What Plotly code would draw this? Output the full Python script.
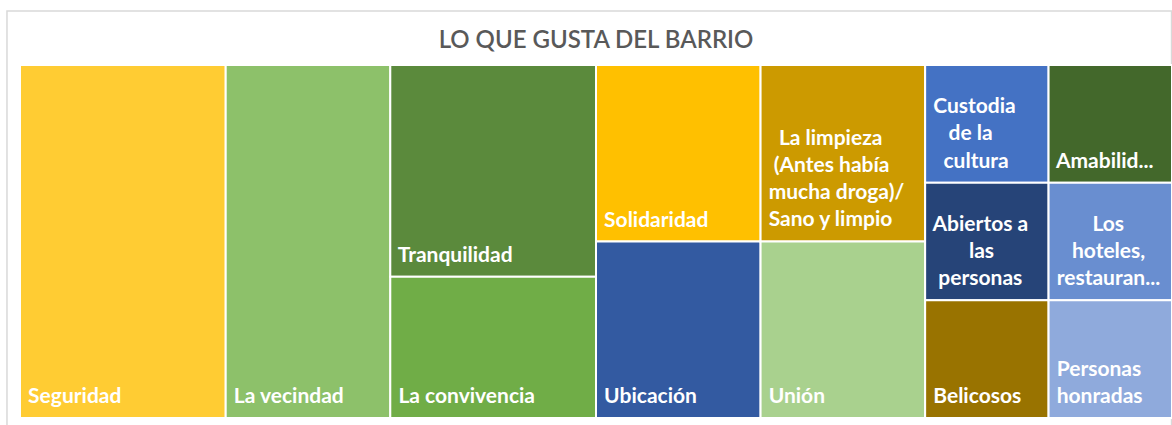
import plotly.graph_objects as go

# ---- data ----
categories = ["Seguridad", "La vecindad", "Tranquilidad", "La convivencia",
              "Solidaridad", "Ubicación", "La limpieza (Antes había mucha droga)/ Sano y limpio",
              "Unión", "Custodia de la cultura", "Abiertos a las personas", "Belicosos",
              "Amabilidad", "Los hoteles, restaurantes", "Personas honradas"]
display_labels = ["Seguridad", "La vecindad", "Tranquilidad", "La convivencia",
                  "Solidaridad", "Ubicación",
                  "La limpieza<br>(Antes había<br>mucha droga)/<br>Sano y limpio",
                  "Unión", "Custodia<br>de la<br>cultura", "Abiertos a<br>las<br>personas",
                  "Belicosos", "Amabilid...", "Los<br>hoteles,<br>restauran...",
                  "Personas<br>honradas"]
values = [5, 4, 3, 2, 2, 2, 2, 2, 1, 1, 1, 1, 1, 1]

# ---- styling ----
colors = ["#FFCC33", "#8DC16A", "#5B8A3C", "#70AD47", "#FFC000", "#335AA1", "#CC9A00",
          "#A9D18E", "#4472C4", "#264478", "#997300", "#43682B", "#698ED0", "#8FAADC"]
# column grouping used by the Excel-style layout
column_of = [0, 1, 2, 2, 3, 3, 4, 4, 5, 5, 5, 6, 6, 6]
# extra non-breaking spaces to centre the lines of wrapped labels
line_indent = {6: [2, 1, 0, 0], 8: [0, 3, 2], 9: [0, 7, 1], 12: [7, 3, 0], 13: [0, 0]}

NB = "\u00a0"


def fmt(i, label):
    lines = label.split("<br>")
    ind = line_indent.get(i, [0] * len(lines))
    out = [NB * (1 + k) + ln for k, ln in zip(ind, lines)]
    out[-1] += "<span style='font-size:54px'>" + NB + "</span>"
    return "<br>".join(out)


ids, labels, parents, vals, texts, cols = [], [], [], [], [], []
ids.append("root"); labels.append(""); parents.append(""); vals.append(0); texts.append(""); cols.append("white")
for c in sorted(set(column_of)):
    ids.append(f"col{c}"); labels.append(""); parents.append("root"); vals.append(0); texts.append(""); cols.append("white")
for i, cat in enumerate(categories):
    ids.append(f"leaf{i}"); labels.append(cat); parents.append(f"col{column_of[i]}")
    vals.append(values[i]); texts.append(fmt(i, display_labels[i])); cols.append(colors[i])

fig = go.Figure(go.Treemap(
    ids=ids, labels=labels, parents=parents, values=vals, text=texts,
    branchvalues="remainder", sort=False,
    texttemplate="%{text}", textposition="bottom left",
    textfont=dict(family="Lato", size=21, color="white", weight="bold"),
    marker=dict(colors=cols, line=dict(width=2, color="white"),
                pad=dict(t=0, l=0, r=0, b=0)),
    tiling=dict(packing="slice-dice", pad=0),
    pathbar=dict(visible=False),
    root=dict(color="white"),
    hoverinfo="label+value",
))

fig.update_layout(
    width=1172, height=425,
    margin=dict(l=20, r=0, t=65, b=7),
    paper_bgcolor="white",
    title=dict(text="LO QUE GUSTA DEL BARRIO", x=0.5, xref="paper", xanchor="center",
               y=1 - 40 / 425, yref="container", yanchor="middle",
               font=dict(family="Lato", size=24, color="#595959", weight=600)),
    uniformtext=dict(minsize=21, mode="show"),
    shapes=[dict(type="rect", xref="paper", yref="paper", x0=-0.0113, x1=0.9996,
                 y0=-0.03, y1=1.153, line=dict(color="#D9D9D9", width=1.5),
                 fillcolor="rgba(0,0,0,0)", layer="below")],
)

fig.write_html("out.html", config={"displayModeBar": False},
               post_script="document.body.style.margin='0';document.body.style.overflow='hidden';")
